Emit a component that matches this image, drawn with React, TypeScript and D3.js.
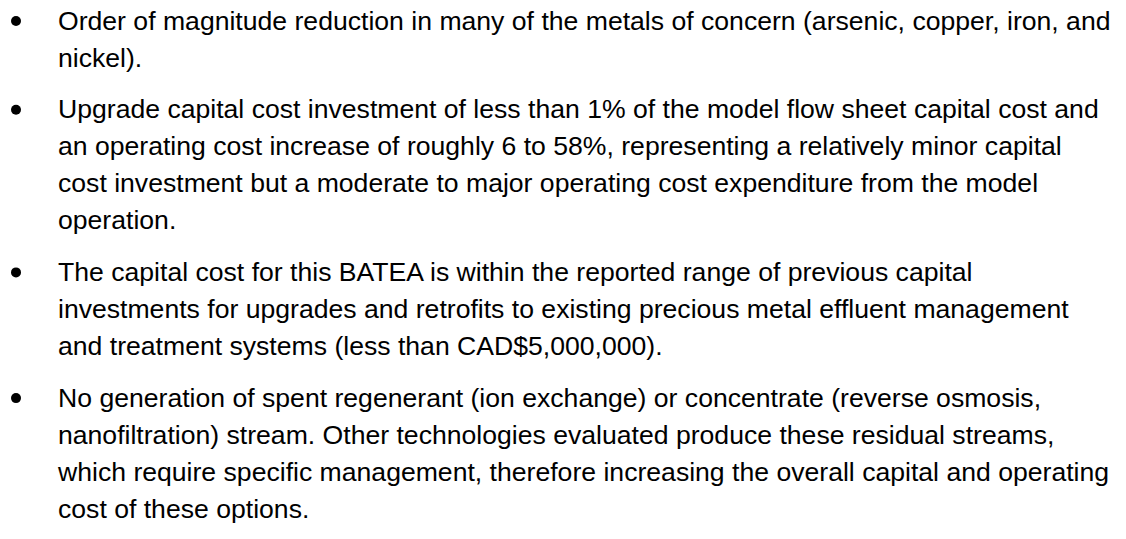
import React from 'react'
import { scaleLinear } from 'd3'

// text of each bullet, one entry per wrapped line
const bullet1 = [
  'Order of magnitude reduction in many of the metals of concern (arsenic, copper, iron, and',
  'nickel).',
]
const bullet2 = [
  'Upgrade capital cost investment of less than 1% of the model flow sheet capital cost and',
  'an operating cost increase of roughly 6 to 58%, representing a relatively minor capital',
  'cost investment but a moderate to major operating cost expenditure from the model',
  'operation.',
]
const bullet3 = [
  'The capital cost for this BATEA is within the reported range of previous capital',
  'investments for upgrades and retrofits to existing precious metal effluent management',
  'and treatment systems (less than CAD$5,000,000).',
]
const bullet4 = [
  'No generation of spent regenerant (ion exchange) or concentrate (reverse osmosis,',
  'nanofiltration) stream. Other technologies evaluated produce these residual streams,',
  'which require specific management, therefore increasing the overall capital and operating',
  'cost of these options.',
]
const bullets = [bullet1, bullet2, bullet3, bullet4]

const W = 1126
const H = 539

const App = () => {
  const lineStep = 37
  const paraGap = 14.7
  // line counter -> baseline
  const y = scaleLinear().domain([0, 1]).range([29.5, 29.5 + lineStep])

  let n = 0
  const rows = bullets.map((lines, p) => {
    const items = lines.map((t, i) => {
      const by = y(n) + p * paraGap
      n++
      return { t, by, first: i === 0 }
    })
    return items
  })

  return (
    <svg width={W} height={H} style={{ position: 'absolute', left: 0, top: 0, background: '#fff' }}>
      <rect width={W} height={H} fill="#fff" />
      {rows.map((items, p) => (
        <g key={p}>
          {items.map((d, i) => (
            <g key={i}>
              {d.first && <circle cx={16} cy={d.by - 8.5} r={5} fill="#000" />}
              <text x={58} y={d.by} fontFamily="'Liberation Sans', Arial, sans-serif" fontSize={26.6} fill="#000">
                {d.t}
              </text>
            </g>
          ))}
        </g>
      ))}
    </svg>
  )
}

export default App
